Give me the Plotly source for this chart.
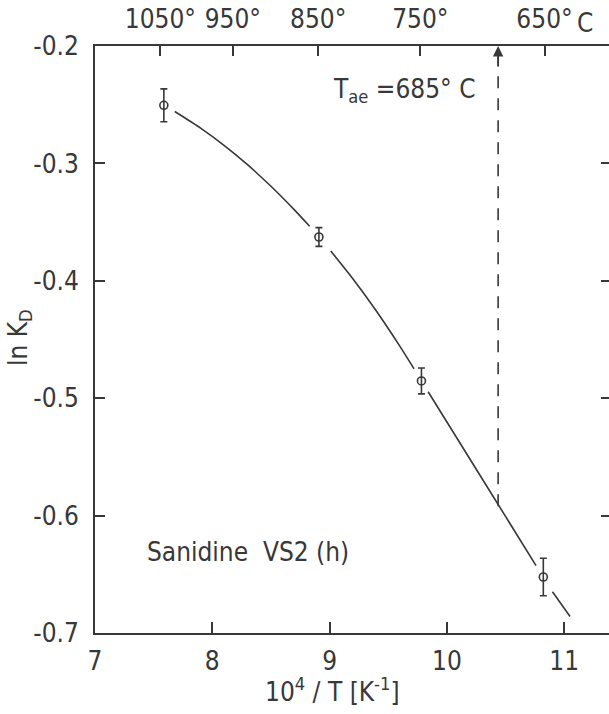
import plotly.graph_objects as go

# ---- data ----
inv_T = [7.587, 8.909, 9.783, 10.822]          # 10^4/T [K^-1]
ln_kd = [-0.2505, -0.3627, -0.4853, -0.6523]    # ln K_D
ln_kd_err = [0.014, 0.008, 0.011, 0.016]

curve_x = [7.68, 7.9, 8.1, 8.3, 8.5, 8.7, 8.83, None,
           9.01, 9.2, 9.4, 9.6, 9.72, None,
           9.84, 10.2, 10.5, 10.76, None,
           10.90, 11.05]
curve_y = [-0.2558, -0.2699, -0.2846, -0.3011, -0.3195, -0.3396, -0.3536, None,
           -0.3746, -0.3985, -0.4260, -0.4559, -0.4750, None,
           -0.4945, -0.5524, -0.6007, -0.6426, None,
           -0.6648, -0.6860]

top_temps_c = [1050, 950, 850, 750, 650]
top_labels = ["1050°", "950°", "850°", "750°", "650°"]
t_ae_c = 685
t_ae_y = [-0.592, -0.2]

y_ticks = [-0.7, -0.6, -0.5, -0.4, -0.3, -0.2]
y_labels = ["-0.7", "-0.6", "-0.5", "-0.4", "-0.3", "-0.2"]
x_ticks = [7, 8, 9, 10, 11]

FONT = "DejaVu Sans Condensed, Liberation Sans Narrow, Liberation Sans, sans-serif"
INK = "#383838"
FS = 26

top_vals = [1e4 / (t + 273.15) for t in top_temps_c]
t_ae_x = 1e4 / (t_ae_c + 273.15)

fig = go.Figure()

fig.add_trace(go.Scatter(x=curve_x, y=curve_y, mode="lines",
                         line=dict(color=INK, width=1.6, shape="spline", smoothing=0.6),
                         connectgaps=False, hoverinfo="skip", showlegend=False))

fig.add_trace(go.Scatter(x=[t_ae_x, t_ae_x], y=t_ae_y, mode="lines",
                         line=dict(color=INK, width=1.6, dash="12px,10px"),
                         showlegend=False, hoverinfo="skip"))

fig.add_trace(go.Scatter(x=inv_T, y=ln_kd, mode="markers",
                         marker=dict(symbol="circle-open", size=8, color=INK,
                                     line=dict(width=1.6, color=INK)),
                         error_y=dict(type="data", array=ln_kd_err, visible=True,
                                      color=INK, thickness=1.6, width=3.5),
                         showlegend=False))

# invisible trace for secondary axes
fig.add_trace(go.Scatter(x=[7.5], y=[-0.45], xaxis="x2", yaxis="y2", mode="markers",
                         marker=dict(opacity=0), showlegend=False, hoverinfo="skip"))

xr = [7, 11.382]
yr = [-0.7, -0.2]

fig.update_layout(
    width=609, height=714,
    margin=dict(l=95, r=0, t=46, b=81),
    paper_bgcolor="white", plot_bgcolor="white",
    font=dict(family=FONT, size=FS, color=INK),
    xaxis=dict(range=xr, tickvals=x_ticks, ticktext=[str(v) for v in x_ticks],
               ticks="inside", ticklen=11, tickwidth=1.5, tickcolor=INK,
               showline=True, linecolor=INK, linewidth=1.8, showgrid=False,
               zeroline=False, ticklabelstandoff=4),
    yaxis=dict(range=yr, tickvals=y_ticks, ticktext=y_labels,
               ticks="inside", ticklen=10, tickwidth=1.5, tickcolor=INK,
               showline=True, linecolor=INK, linewidth=1.8, showgrid=False,
               zeroline=False, ticklabelstandoff=9),
    xaxis2=dict(range=xr, overlaying="x", side="top", tickvals=top_vals,
                ticktext=top_labels, ticks="inside", ticklen=10, tickwidth=1.5,
                tickcolor=INK, showline=True, linecolor=INK, linewidth=1.8,
                showgrid=False, zeroline=False, ticklabelstandoff=6),
    yaxis2=dict(range=yr, overlaying="y", side="right", tickvals=y_ticks,
                ticks="inside", ticklen=8, tickwidth=1.5, tickcolor=INK,
                showticklabels=False, showline=False, showgrid=False, zeroline=False),
)

fig.add_annotation(x=t_ae_x, y=-0.2, xref="x", yref="y", ax=0, ay=22,
                   showarrow=True, arrowhead=2, arrowsize=1.3, arrowwidth=1.6,
                   arrowcolor=INK, text="")

W, H = 609, 714
L, R, T, B = 95, 0, 46, 81
pw, ph = W - L - R, H - T - B


def px(x, y):
    return (x - L) / pw, 1 - (y - T) / ph


def text_at(x, y, s, xanchor="center", angle=0):
    xp, yp = px(x, y)
    fig.add_annotation(x=xp, y=yp, xref="paper", yref="paper", text=s,
                       showarrow=False, xanchor=xanchor, yanchor="middle",
                       textangle=angle, font=dict(family=FONT, size=FS, color=INK))


text_at(478, 90, "T<sub>ae</sub> =685° C", xanchor="right")
text_at(145, 552, "Sanidine  VS2 (h)", xanchor="left")
text_at(332, 690, "10<sup>4</sup> / T [K<sup>-1</sup>]")
text_at(20, 338, "ln K<sub>D</sub>", angle=-90)
text_at(585, 23, "C")

fig.write_html("out.html", config={"displayModeBar": False},
               post_script="document.body.style.margin='0';document.body.style.overflow='hidden';")
